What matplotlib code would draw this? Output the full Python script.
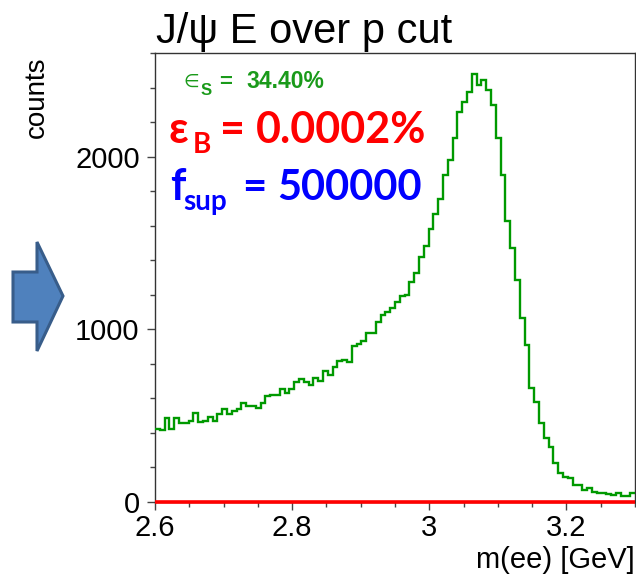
import numpy as np
import matplotlib
matplotlib.use("Agg")
import matplotlib.pyplot as plt
from matplotlib.patches import Polygon
from matplotlib.ticker import MultipleLocator, FixedLocator, FixedFormatter

# ---- data ----
x_min, x_max, n_bins = 2.6, 3.3, 100
signal_counts = [
    423, 417, 485, 423, 485, 460, 460, 471, 518, 464,
    471, 495, 471, 510, 539, 510, 529, 539, 572, 556,
    556, 543, 572, 614, 620, 620, 653, 634, 653, 692,
    711, 697, 678, 717, 701, 759, 736, 781, 817, 823,
    808, 904, 914, 930, 978, 978, 1040, 1084, 1098, 1123,
    1156, 1190, 1200, 1273, 1326, 1416, 1483, 1582, 1670, 1755,
    1896, 1979, 2106, 2257, 2317, 2373, 2479, 2417, 2441, 2385,
    2301, 2108, 1896, 1625, 1471, 1283, 1065, 910, 659, 578,
    456, 369, 321, 224, 166, 147, 137, 99, 99, 70,
    79, 60, 50, 54, 46, 41, 50, 35, 35, 50,
]
background_counts = [0] * n_bins
x_ticks = [2.6, 2.8, 3.0, 3.2]
x_tick_labels = ["2.6", "2.8", "3", "3.2"]
y_ticks = [0, 1000, 2000]
y_tick_labels = ["0", "1000", "2000"]
y_max = 2600

title = "J/\u03c8 E over p cut"
x_label = "m(ee) [GeV]"
y_label = "counts"
eff_s = "34.40%"
eff_b = "0.0002%"
f_sup = "500000"

# ---- figure ----
W, H = 636, 579
fig = plt.figure(figsize=(W / 100, H / 100), dpi=100)
fig.patch.set_facecolor("white")

def fx(px):
    return px / W

def fy(py):
    return 1 - py / H

ax = fig.add_axes([fx(155), fy(502), (635 - 155) / W, (502 - 53) / H])
edges = np.linspace(x_min, x_max, n_bins + 1)
ax.stairs(signal_counts, edges, color="#009900", lw=1.7, baseline=None, zorder=3)
ax.stairs(background_counts, edges, color="#ff0000", lw=2.6, baseline=None,
          zorder=4, clip_on=False)
ax.set_xlim(x_min, x_max)
ax.set_ylim(0, y_max)

rootfont = ["Liberation Sans", "DejaVu Sans"]
ax.xaxis.set_major_locator(FixedLocator(x_ticks))
ax.xaxis.set_major_formatter(FixedFormatter(x_tick_labels))
ax.xaxis.set_minor_locator(MultipleLocator(0.05))
ax.yaxis.set_major_locator(FixedLocator(y_ticks))
ax.yaxis.set_major_formatter(FixedFormatter(y_tick_labels))
ax.yaxis.set_minor_locator(MultipleLocator(200))
ax.tick_params(axis="both", which="major", direction="out", length=6,
               width=1, color="#444444", labelsize=21, pad=3)
ax.tick_params(axis="both", which="minor", direction="out", length=3.5,
               width=1, color="#444444")
ax.tick_params(axis="y", which="major", pad=5)
for lab in ax.get_xticklabels() + ax.get_yticklabels():
    lab.set_family(rootfont)
for s in ax.spines.values():
    s.set_linewidth(1.0)
    s.set_color("#333333")

# titles and axis labels
fig.text(fx(156), fy(43), title, fontsize=30, family=rootfont,
         ha="left", va="baseline")
fig.text(fx(37), fy(57), y_label, fontsize=20, family=rootfont,
         rotation=90, ha="center", va="top")
fig.text(fx(635), fy(568), x_label, fontsize=21, family=rootfont,
         ha="right", va="baseline")

# green efficiency text
green = "#1a9a1a"
fig.text(fx(183), fy(87), "\u2208", fontsize=13, color=green,
         family=["DejaVu Sans"], ha="left", va="baseline")
fig.text(fx(201), fy(95), "S", fontsize=12, color=green, weight="bold",
         family=rootfont, ha="left", va="baseline")
fig.text(fx(219), fy(88), "=", fontsize=16, color=green, weight="bold",
         family=rootfont, ha="left", va="baseline")
fig.text(fx(246), fy(88), eff_s, fontsize=16.5, color=green, weight="bold",
         family=rootfont, ha="left", va="baseline")

# red background efficiency
big = ["Lato", "DejaVu Sans"]
fig.text(fx(169), fy(143), "\u03b5", fontsize=31, color="#ff0000",
         weight="bold", family=big, ha="left", va="baseline")
fig.text(fx(193), fy(153), "B", fontsize=20, color="#ff0000",
         weight="bold", family=big, ha="left", va="baseline")
fig.text(fx(220), fy(143), "=", fontsize=31, color="#ff0000",
         weight="bold", family=big, ha="left", va="baseline")
fig.text(fx(256), fy(143), eff_b, fontsize=31, color="#ff0000",
         weight="bold", family=big, ha="left", va="baseline")

# blue suppression factor
fig.text(fx(170), fy(200), "f", fontsize=31, color="#0000ff",
         weight="bold", family=big, ha="left", va="baseline")
fig.text(fx(183), fy(210), "sup", fontsize=20, color="#0000ff",
         weight="bold", family=big, ha="left", va="baseline")
fig.text(fx(242), fy(200), "=", fontsize=30, color="#0000ff",
         weight="bold", family=big, ha="left", va="baseline")
fig.text(fx(277), fy(200), f_sup, fontsize=30, color="#0000ff",
         weight="bold", family=big, ha="left", va="baseline")

# block arrow on the left
arrow_px = [(13, 272), (37, 272), (37, 242), (63, 296), (37, 351),
            (37, 322), (13, 322)]
arrow = Polygon([(fx(a), fy(b)) for a, b in arrow_px], closed=True,
                transform=fig.transFigure, facecolor="#4F81BD",
                edgecolor="#385D8A", lw=2.2)
fig.patches.append(arrow)

fig.savefig("out.png", dpi=100)
